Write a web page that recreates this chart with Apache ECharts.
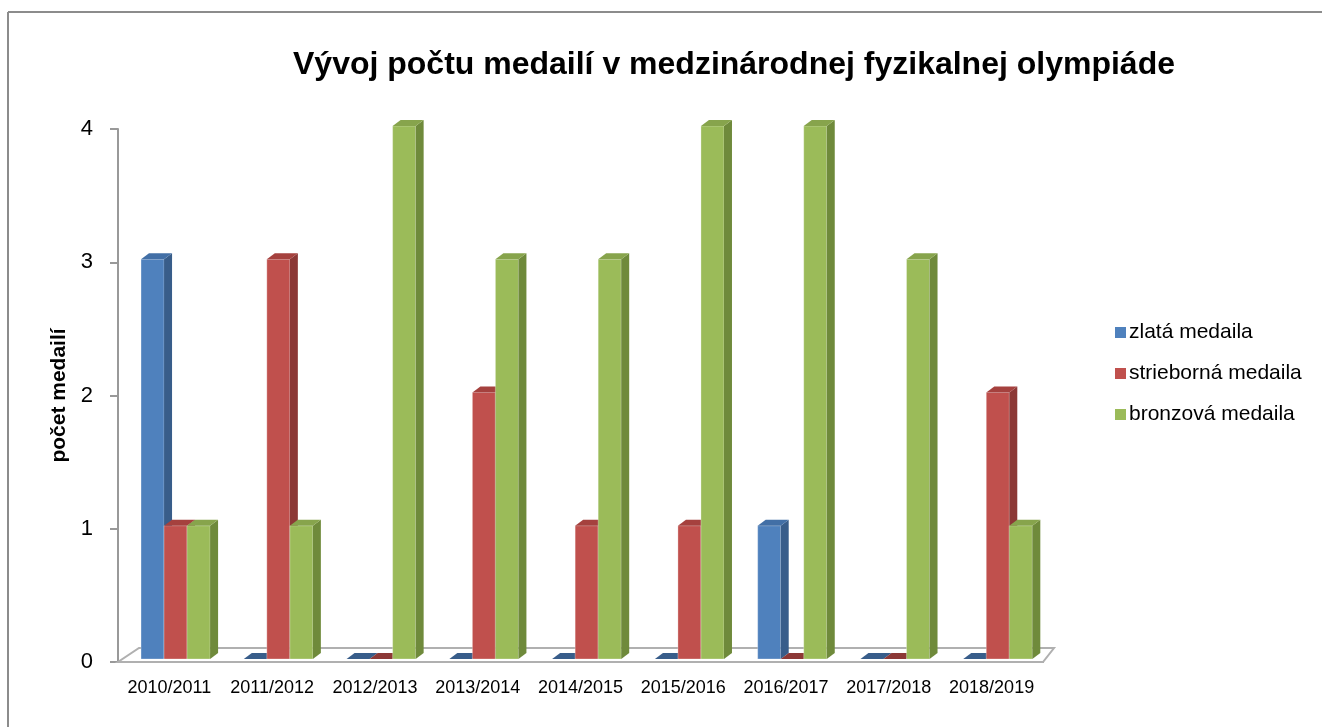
<!DOCTYPE html>
<html lang="sk">
<head>
    <meta charset="UTF-8">
    <title>Vývoj počtu medailí</title>
    <script src="https://cdn.jsdelivr.net/npm/echarts@6/dist/echarts.min.js"></script>
    <style>
        html, body { margin: 0; padding: 0; background: #fff; }
        #chart { width: 1322px; height: 727px; }
    </style>
</head>
<body>
    <div id="chart"></div>

    <script>
        // roky súťaže
        const years = ['2010/2011', '2011/2012', '2012/2013', '2013/2014', '2014/2015',
                       '2015/2016', '2016/2017', '2017/2018', '2018/2019'];
        const zlata = [3, 0, 0, 0, 0, 0, 1, 0, 0];
        const strieborna = [1, 3, 0, 2, 1, 1, 0, 0, 2];
        const bronzova = [1, 1, 4, 3, 3, 4, 4, 3, 1];
        const yTicks = [0, 1, 2, 3, 4];

        // farby: predná stena, bočná stena, vrch
        const palette = [
            { front: '#4f81bd', side: '#385d8a', top: '#426fa6' },
            { front: '#c0504d', side: '#8c3836', top: '#a5413e' },
            { front: '#9bbb59', side: '#6f8a3b', top: '#87a44c' }
        ];

        const DX = 8, DY = -6;

        function barRenderer(idx) {
            const c = palette[idx];
            return function (params, api) {
                const cat = api.value(0), v = api.value(1);
                const bandW = api.size([1, 0])[0];
                const base = api.coord([cat, 0]);
                const top = api.coord([cat, v]);
                const w = bandW * 0.224;
                const x0 = base[0] - bandW / 2 + w * (1 + idx);
                const x1 = x0 + w;
                const yb = base[1] - 3, yt = top[1] - 3;
                const children = [];
                if (v > 0) {
                    children.push({
                        type: 'rect',
                        shape: { x: x0, y: yt, width: w, height: yb - yt },
                        style: { fill: c.front, stroke: 'rgba(255,255,255,0.5)', lineWidth: 0.6 }
                    });
                    children.push({
                        type: 'polygon',
                        shape: { points: [[x1, yt], [x1 + DX, yt + DY], [x1 + DX, yb + DY], [x1, yb]] },
                        style: { fill: c.side }
                    });
                }
                children.push({
                    type: 'polygon',
                    shape: { points: [[x0, yt], [x0 + DX, yt + DY], [x1 + DX, yt + DY], [x1, yt]] },
                    style: { fill: v > 0 ? c.top : c.side }
                });
                return { type: 'group', children: children };
            };
        }

        function floorRenderer(params, api) {
            const bandW = api.size([1, 0])[0];
            const base = api.coord([0, 0]);
            const left = base[0] - bandW / 2;
            const right = left + bandW * years.length;
            const y0 = base[1];
            return {
                type: 'polygon',
                shape: { points: [[left, y0], [right, y0], [right + 11, y0 - 14], [left + 21, y0 - 14]] },
                style: { fill: '#fff', stroke: '#b0b0b0', lineWidth: 2 }
            };
        }

        const chart = echarts.init(document.getElementById('chart'), null, { renderer: 'canvas' });

        const option = {
            backgroundColor: '#fff',
            animation: false,
            textStyle: { fontFamily: 'Liberation Sans, Arial, sans-serif' },
            title: {
                text: 'Vývoj počtu medailí v medzinárodnej fyzikalnej olympiáde',
                left: 729,
                top: 44,
                textAlign: 'center',
                textStyle: { fontSize: 32, fontWeight: 'bold', color: '#000' }
            },
            legend: {
                data: ['zlatá medaila', 'strieborná medaila', 'bronzová medaila'],
                orient: 'vertical',
                left: 1110,
                top: 317,
                itemWidth: 11,
                itemHeight: 11,
                itemGap: 20,
                icon: 'rect',
                textStyle: { fontSize: 21, color: '#000', padding: [0, 0, 0, -2] }
            },
            grid: { left: 118, right: 279, top: 129, bottom: 65 },
            xAxis: {
                type: 'category',
                data: years,
                axisLine: { lineStyle: { color: '#888', width: 2 } },
                axisTick: { length: 6, lineStyle: { color: '#888', width: 2 } },
                axisLabel: { fontSize: 18, color: '#000', margin: 17, interval: 0 }
            },
            yAxis: {
                type: 'value',
                min: 0,
                max: yTicks[yTicks.length - 1],
                interval: 1,
                name: 'počet medailí',
                nameLocation: 'middle',
                nameGap: 45,
                nameTextStyle: { fontSize: 21, fontWeight: 'bold', color: '#000' },
                axisLine: { show: true, lineStyle: { color: '#999', width: 2 } },
                axisTick: { show: true, length: 8, lineStyle: { color: '#999', width: 2 } },
                axisLabel: { fontSize: 22, color: '#000', margin: 25 },
                splitLine: { show: false }
            },
            graphic: [
                { type: 'line', shape: { x1: 8, y1: 12, x2: 1322, y2: 12 }, style: { stroke: '#8c8c8c', lineWidth: 2 } },
                { type: 'line', shape: { x1: 8, y1: 12, x2: 8, y2: 727 }, style: { stroke: '#8c8c8c', lineWidth: 2 } }
            ],
            series: [
                {
                    name: 'floor',
                    type: 'custom',
                    silent: true,
                    z: 1,
                    renderItem: floorRenderer,
                    encode: { x: 0, y: 1 },
                    data: [[0, 0]]
                },
                {
                    name: 'zlatá medaila',
                    type: 'custom',
                    z: 2,
                    itemStyle: { color: palette[0].front },
                    renderItem: barRenderer(0),
                    encode: { x: 0, y: 1 },
                    data: zlata.map((v, i) => [i, v])
                },
                {
                    name: 'strieborná medaila',
                    type: 'custom',
                    z: 3,
                    itemStyle: { color: palette[1].front },
                    renderItem: barRenderer(1),
                    encode: { x: 0, y: 1 },
                    data: strieborna.map((v, i) => [i, v])
                },
                {
                    name: 'bronzová medaila',
                    type: 'custom',
                    z: 4,
                    itemStyle: { color: palette[2].front },
                    renderItem: barRenderer(2),
                    encode: { x: 0, y: 1 },
                    data: bronzova.map((v, i) => [i, v])
                }
            ]
        };

        chart.setOption(option);
        window.addEventListener('resize', () => chart.resize());
    </script>
</body>
</html>
